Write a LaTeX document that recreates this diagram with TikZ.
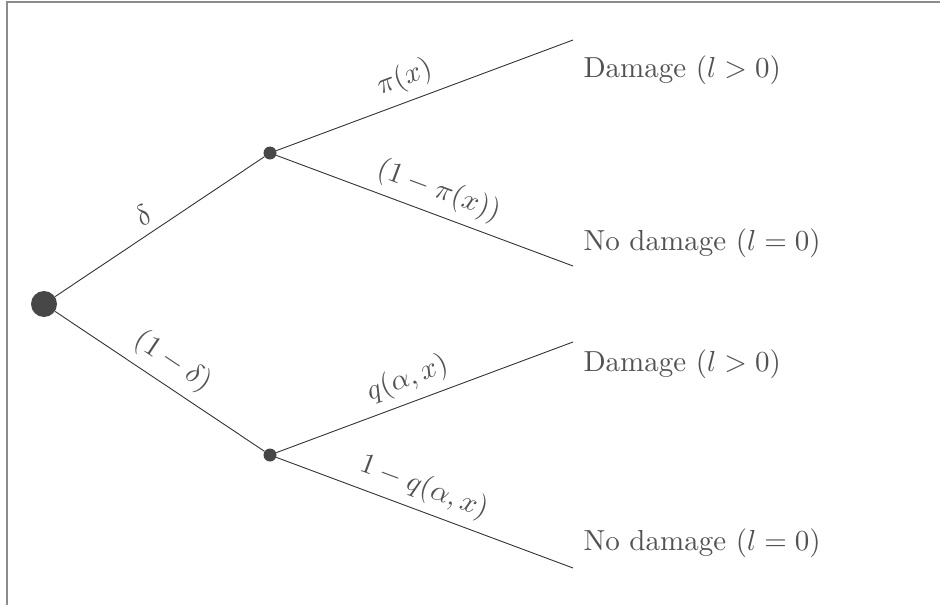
\documentclass[tikz,border=0pt]{standalone}
\usepackage{amsmath}
\begin{document}
\begin{tikzpicture}[x=1pt,y=-1pt,
  edge/.style={draw=black!80,line width=0.9pt},
  dot/.style={circle,fill=black!72,inner sep=0pt},
  elabel/.style={text=black!68,scale=2.9,sloped,above,inner sep=2.6pt},
  leaf/.style={text=black!68,scale=2.9,anchor=west,inner sep=0pt},
  frame/.style={draw=black!45,line width=2pt}]
\useasboundingbox (0,0) rectangle (940,605);
\draw[frame] (7,605) -- (7,1.5) -- (940,1.5);
\node[dot,minimum size=26pt] (r) at (44,304) {};
\node[dot,minimum size=13pt] (u) at (270,153) {};
\node[dot,minimum size=13pt] (d) at (270,455) {};
\coordinate (uu) at (573,40);
\coordinate (ud) at (573,266);
\coordinate (du) at (573,342);
\coordinate (dd) at (573,568);
\draw[edge] (r) -- node[elabel,pos=0.47] {$\delta$} (u);
\draw[edge] (r) -- node[elabel,pos=0.5] {$(1-\delta)$} (d);
\draw[edge] (u) -- node[elabel,pos=0.46] {$\pi(x)$} (uu);
\draw[edge] (u) -- node[elabel,pos=0.52] {$(1-\pi(x))$} (ud);
\draw[edge] (d) -- node[elabel,pos=0.47] {$q(\alpha,x)$} (du);
\draw[edge] (d) -- node[elabel,pos=0.47] {$1-q(\alpha,x)$} (dd);
\node[leaf] (l1) at (583,70) {Damage ($l>0$)};
\node[leaf] (l2) at (583,243) {No damage ($l=0$)};
\node[leaf] (l3) at (583,364) {Damage ($l>0$)};
\node[leaf] (l4) at (583,543) {No damage ($l=0$)};
\end{tikzpicture}
\end{document}
